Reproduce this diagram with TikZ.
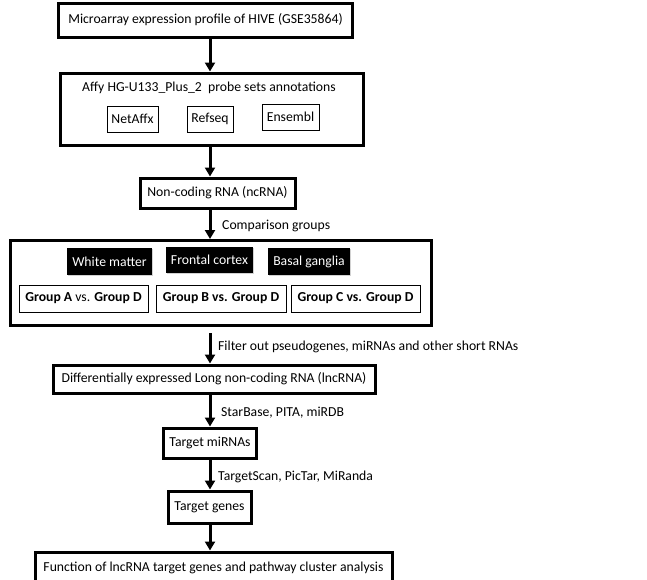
\documentclass[tikz,border=0pt]{standalone}
\usepackage{fontspec}
\setmainfont{Carlito}
\usetikzlibrary{arrows.meta,shadows}
\begin{document}
\begin{tikzpicture}[x=1pt,y=-1pt,
  every node/.style={font=\fontsize{13.7}{15}\selectfont, inner sep=0pt},
  thickbox/.style={draw, line width=3pt},
  thinbox/.style={draw, line width=0.9pt},
  blackbox/.style={fill=black, text=white, drop shadow={opacity=0.35, shadow xshift=1pt, shadow yshift=-1pt}},
  shbox/.style={thickbox, drop shadow={opacity=0.25, shadow xshift=1.5pt, shadow yshift=-1.5pt}, fill=white},
  arr/.style={line width=3pt, -{Triangle[width=10pt,length=9pt]}},
  lbl/.style={anchor=west}
]
\useasboundingbox (0,0) rectangle (647,579);
\coordinate (ax) at (210,0);

\node[thickbox, minimum width=294, minimum height=34] (b1) at (205.5,20) {Microarray expression profile of HIVE (GSE35864)};

\node[shbox, minimum width=303, minimum height=72] (b2) at (211.5,109) {};
\node (b2t) at (209,88) {Affy HG-U133\_Plus\_2~ probe sets annotations};
\node[thinbox, minimum width=51, minimum height=26] (na) at (132.5,119) {NetAffx};
\node[thinbox, minimum width=46, minimum height=26] (rs) at (210,119) {Refseq};
\node[thinbox, minimum width=57, minimum height=26] (en) at (290.5,117) {Ensembl};

\node[thickbox, minimum width=155, minimum height=30] (b3) at (217.5,193) {Non-coding RNA (ncRNA)};

\node[shbox, minimum width=421, minimum height=85] (b4) at (220.5,283) {};
\node[blackbox, minimum width=85, minimum height=27] (wm) at (109.5,261.5) {White matter};
\node[blackbox, minimum width=87, minimum height=26] (fc) at (209.5,260) {Frontal cortex};
\node[blackbox, minimum width=82, minimum height=27] (bg) at (309,261.5) {Basal ganglia};
\node[thinbox, minimum width=129, minimum height=27] (ga) at (83.5,298.5) {\textbf{Group A} vs. \textbf{Group D}};
\node[thinbox, minimum width=130, minimum height=27] (gb) at (221,298.5) {\textbf{Group B vs. Group D}};
\node[thinbox, minimum width=129, minimum height=27] (gc) at (355.5,298.5) {\textbf{Group C vs. Group D}};

\node[thickbox, minimum width=322, minimum height=28] (b5) at (214,379) {Differentially expressed Long non-coding RNA (lncRNA)};
\node[thickbox, minimum width=93, minimum height=30] (b6) at (210,443) {Target miRNAs};
\node[thickbox, minimum width=83, minimum height=32] (b7) at (209.5,507) {Target genes};
\node[thickbox, minimum width=357, minimum height=32] (b8) at (213.5,568) {Function of lncRNA target genes and pathway cluster analysis};

\draw[arr] (b1.south -| ax) -- (b2.north -| ax);
\draw[arr] (b2.south -| ax) -- (b3.north -| ax);
\draw[arr] (b3.south -| ax) -- (b4.north -| ax);
\draw[arr, shorten <=6pt] (b4.south -| ax) -- (b5.north -| ax);
\draw[arr] (b5.south -| ax) -- (b6.north -| ax);
\draw[arr] (b6.south -| ax) -- (b7.north -| ax);
\draw[arr] (b7.south -| ax) -- (b8.north -| ax);

\node[lbl] (l1) at (222,226) {Comparison groups};
\node[lbl] (l2) at (218,347) {Filter out pseudogenes, miRNAs and other short RNAs};
\node[lbl] (l3) at (221,413) {StarBase, PITA, miRDB};
\node[lbl] (l4) at (218,477) {TargetScan, PicTar, MiRanda};
\end{tikzpicture}
\end{document}
